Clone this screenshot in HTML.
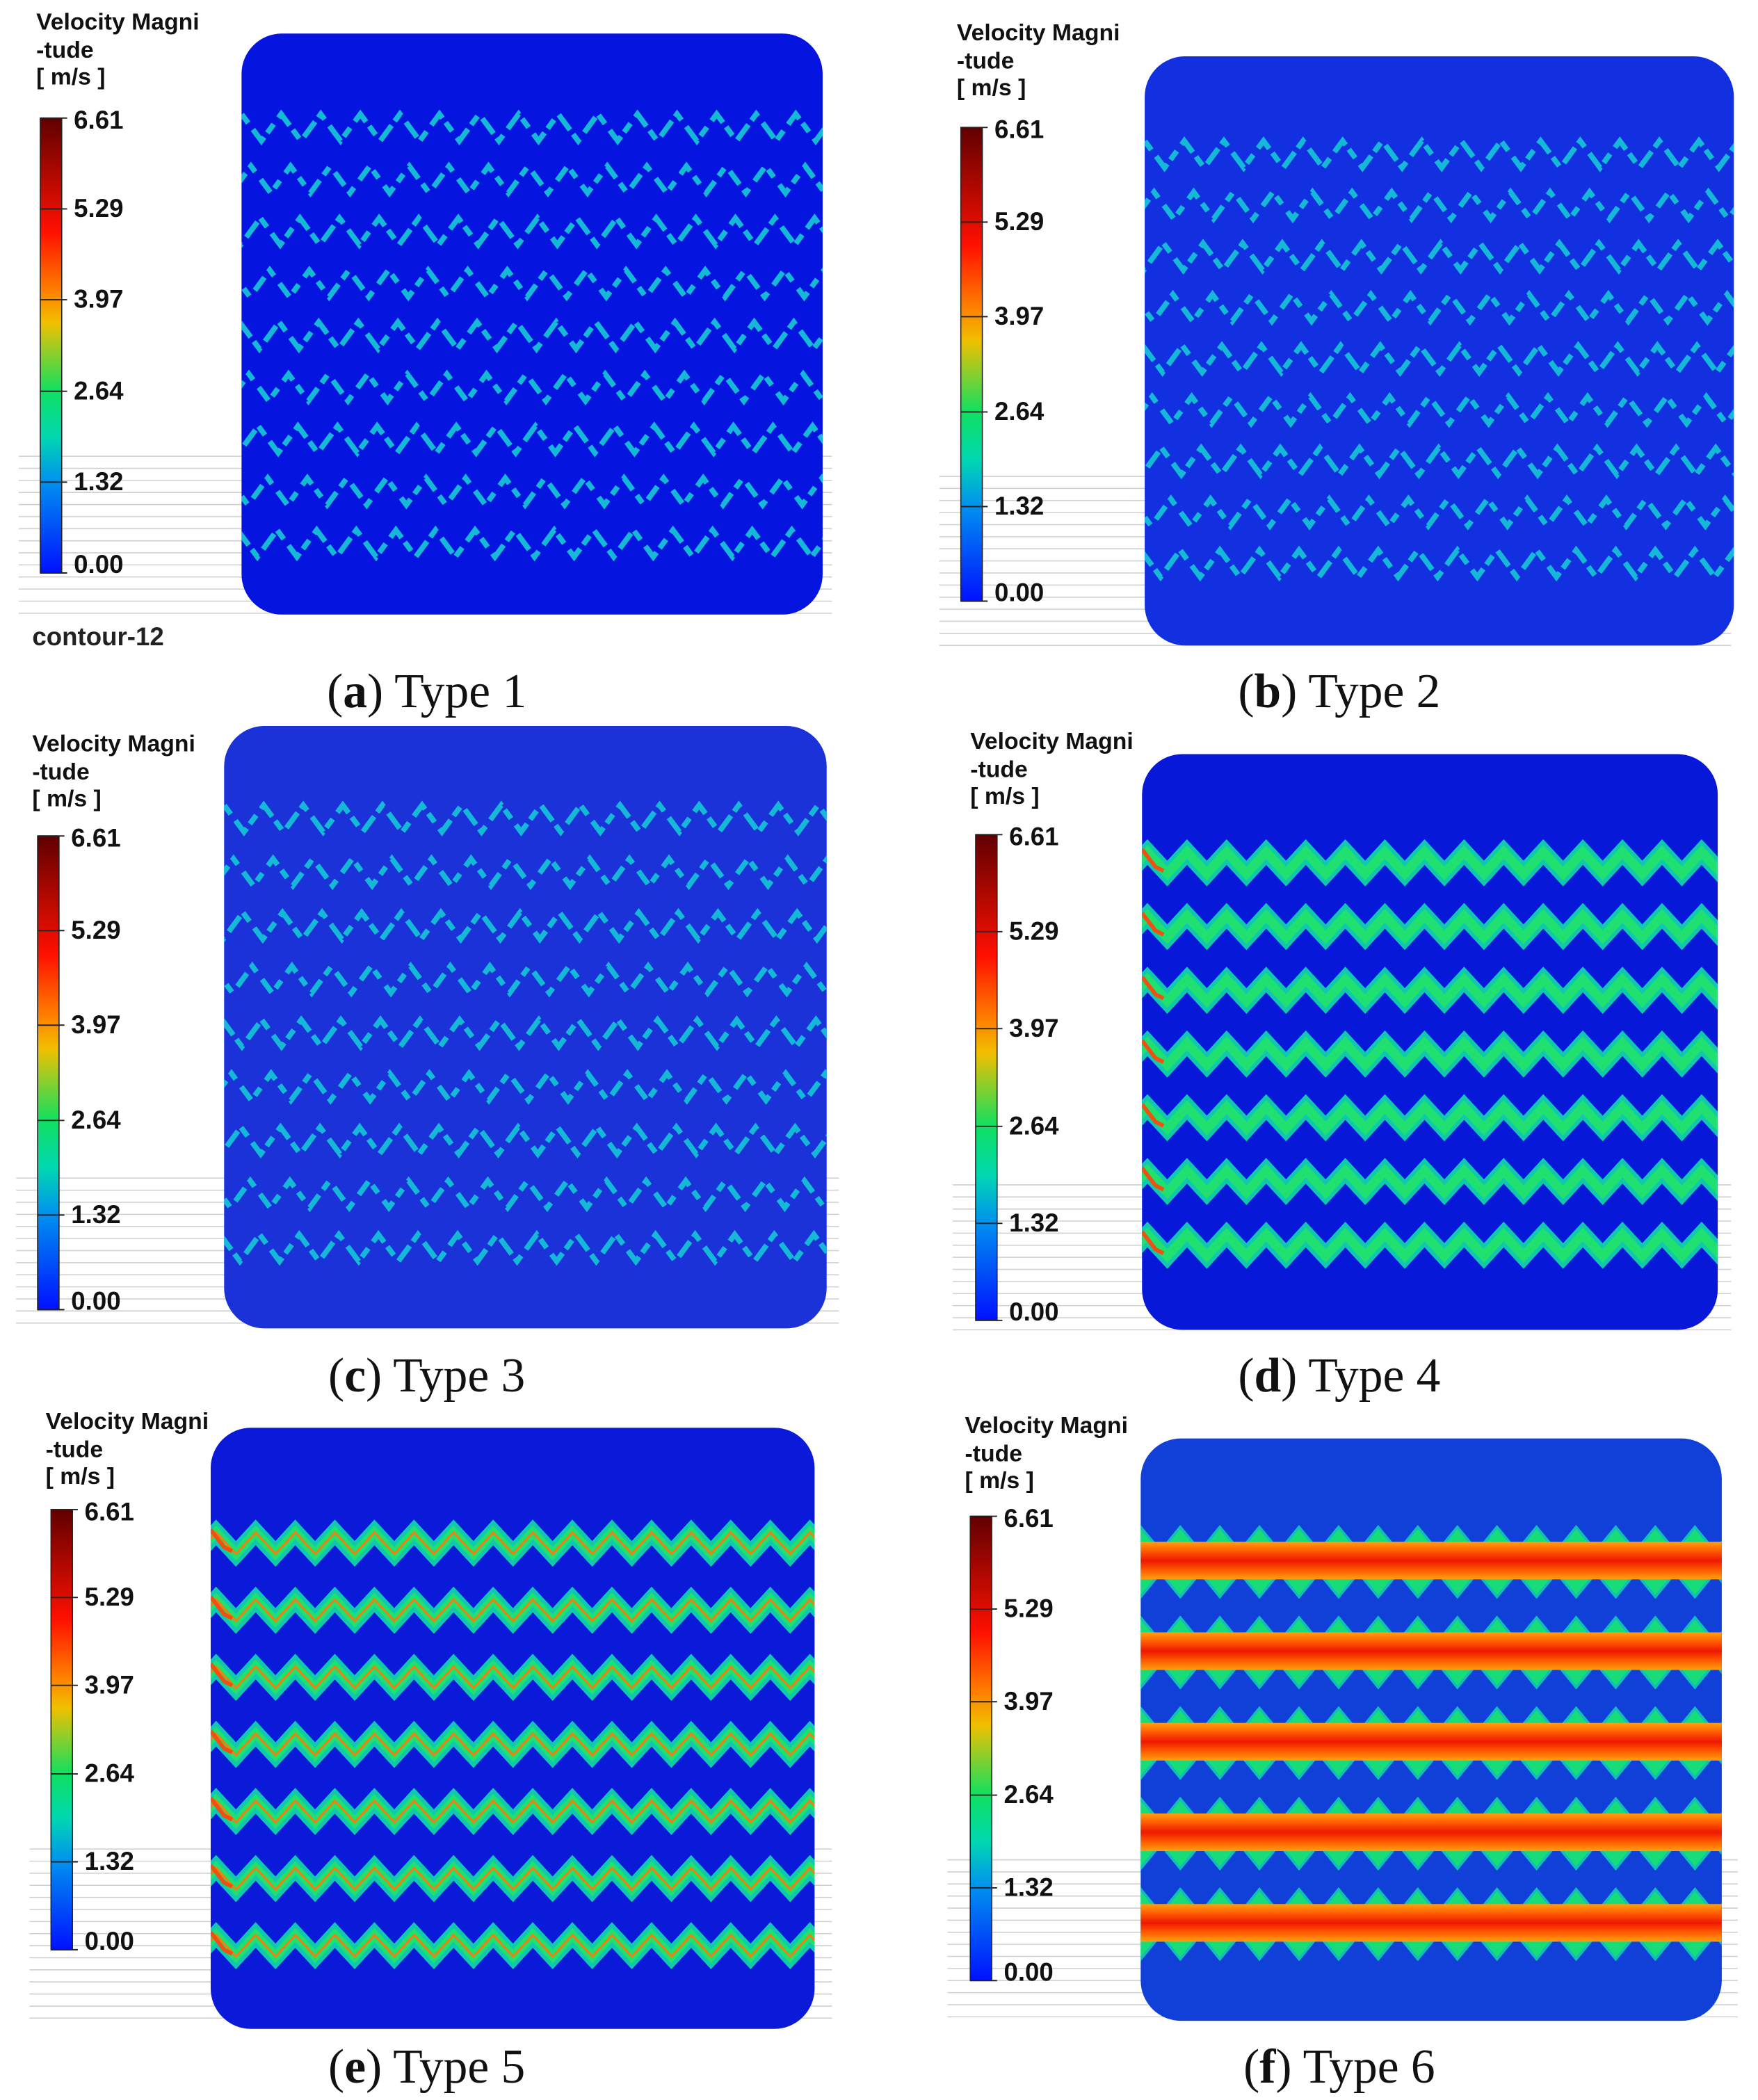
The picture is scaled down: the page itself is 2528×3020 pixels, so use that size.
<!DOCTYPE html>
<html><head><meta charset="utf-8"><style>
html,body{margin:0;padding:0;background:#fff}
svg{display:block}
</style></head><body>
<svg id="fig" width="2528" height="3020" viewBox="0 0 1310 1565" preserveAspectRatio="none" xmlns="http://www.w3.org/2000/svg">
<defs>
<linearGradient id="cbar" x1="0" y1="1" x2="0" y2="0">
<stop offset="0" stop-color="#0010ff"/><stop offset="0.2" stop-color="#0090f0"/>
<stop offset="0.3" stop-color="#00d8b0"/><stop offset="0.4" stop-color="#10e060"/>
<stop offset="0.55" stop-color="#f0c000"/><stop offset="0.62" stop-color="#ff8000"/>
<stop offset="0.75" stop-color="#ff1000"/><stop offset="1" stop-color="#600000"/>
</linearGradient>
<linearGradient id="bandGrad" x1="0" y1="0" x2="0" y2="1">
<stop offset="0" stop-color="#ffa010"/><stop offset="0.25" stop-color="#ff5a00"/>
<stop offset="0.5" stop-color="#ee1800"/><stop offset="0.75" stop-color="#ff5a00"/><stop offset="1" stop-color="#ffa010"/>
</linearGradient>
<clipPath id="ca"><rect x="180" y="25" width="433" height="433" rx="30"/></clipPath>
<clipPath id="cb"><rect x="853" y="42" width="439" height="439" rx="30"/></clipPath>
<clipPath id="cc"><rect x="167" y="541" width="449" height="449" rx="30"/></clipPath>
<clipPath id="cd"><rect x="851" y="562" width="429" height="429" rx="30"/></clipPath>
<clipPath id="ce"><rect x="157" y="1064" width="450" height="448" rx="30"/></clipPath>
<clipPath id="cf"><rect x="850" y="1072" width="433" height="434" rx="30"/></clipPath>
</defs>
<g id="root"></g>
</svg>
<script>
// colorbar data
const tickValues = [0.00, 1.32, 2.64, 3.97, 5.29, 6.61];
const tickLabels = ["0.00", "1.32", "2.64", "3.97", "5.29", "6.61"];
const vMax = 6.61;
// channel counts per type
const rowCounts = [9, 9, 9, 7, 7, 5];
const captionTypes = ["Type 1", "Type 2", "Type 3", "Type 4", "Type 5", "Type 6"];
const captionLetters = ["a", "b", "c", "d", "e", "f"];

const NS = "http://www.w3.org/2000/svg";
const root = document.getElementById('root');
function mk(tag, attrs, parent){const e=document.createElementNS(NS,tag);for(const k in attrs)e.setAttribute(k,attrs[k]);(parent||root).appendChild(e);return e;}

const layout = [
 {cb:[30,88,427], t:[27,22], r:[180,25,433,433], clip:'ca', cap:[318,515], bg:'#0614e0', grid:[14,340,620,460], r0:95, r1:405, mode:'dash'},
 {cb:[716,95,448], t:[713,30], r:[853,42,439,439], clip:'cb', cap:[998,515], bg:'#1230e0', grid:[700,355,1290,485], r0:115, r1:420, mode:'dash'},
 {cb:[28,623,976], t:[24,560], r:[167,541,449,449], clip:'cc', cap:[318,1025], bg:'#1a32d8', grid:[12,878,625,992], r0:610, r1:930, mode:'dash'},
 {cb:[727,622,984], t:[723,558], r:[851,562,429,429], clip:'cd', cap:[998,1025], bg:'#0818d8', grid:[710,883,1290,995], r0:643, r1:928, mode:'solid'},
 {cb:[38,1125,1453], t:[34,1065], r:[157,1064,450,448], clip:'ce', cap:[318,1540], bg:'#0a1ad8', grid:[22,1378,620,1510], r0:1150, r1:1450, mode:'solid2'},
 {cb:[723,1130,1476], t:[719,1068], r:[850,1072,433,434], clip:'cf', cap:[998,1540], bg:'#1040d8', grid:[706,1386,1295,1510], r0:1162, r1:1432, mode:'band'}
];

function zig(x0,x1,yc,amp,per,phase){let d='';let i=0;for(let x=x0-per+phase;x<=x1+per;x+=per/2,i++){const y=yc+(i%2?amp:-amp);d+=(d?'L':'M')+x.toFixed(1)+' '+y.toFixed(1);}return d;}

layout.forEach((L,pi)=>{
 const g=mk('g',{});
 
 
 const gg=mk('g',{stroke:'#cfcfcf','stroke-width':'0.8'},g);
 
 
 const [gx0,gy0,gx1,gy1]=L.grid;
 for(let y=gy0;y<=gy1;y+=9) mk('line',{x1:gx0,y1:y,x2:gx1,y2:y},gg);
 const tt=mk('text',{x:L.t[0],y:L.t[1],'font-family':'Liberation Sans, sans-serif','font-weight':'bold','font-size':'17.5',fill:'#111'},g);
 
 
 [['Velocity Magni',0],['-tude',21],['[ m/s ]',20]].forEach(([s,dy])=>{const ts=mk('tspan',{x:L.t[0],dy:dy},tt);ts.textContent=s;});
 const [cx,cy0,cy1]=L.cb;
 const cbr=mk('rect',{x:cx,y:cy0,width:16,height:cy1-cy0,fill:'url(#cbar)',stroke:'#222','stroke-width':'0.8'},g);
 
 
 const yOf=v=>cy1-(v/vMax)*(cy1-cy0);
 tickValues.forEach((v,i)=>{
  const t=mk('text',{x:cx+25,y:yOf(v)+(i==tickValues.length-1?8:i==0?0:6),'font-family':'Liberation Sans, sans-serif','font-weight':'bold','font-size':'19',fill:'#111'},g);
  t.textContent=tickLabels[i];
  
  
  mk('line',{x1:cx,y1:yOf(v),x2:cx+20,y2:yOf(v),stroke:'#222','stroke-width':'1'},g);
 });
 const [rx,ry,rw,rh]=L.r;
 const pr=mk('rect',{x:rx,y:ry,width:rw,height:rh,rx:30,fill:L.bg},g);
 
 
 const cg=mk('g',{'clip-path':'url(#'+L.clip+')'},g);
 
 
 const n=rowCounts[pi];
 const per=29.5;
 for(let k=0;k<n;k++){
  const yc=L.r0+(L.r1-L.r0)*k/(n-1);
  if(L.mode==='dash'){
   const p=mk('path',{d:zig(rx,rx+rw,yc,10,per,(k*7)%per),fill:'none',stroke:'#16b8d8','stroke-width':'4','stroke-dasharray':(k%2?'12 5 7 7':'14 4 8 6'),'stroke-linejoin':'miter'},cg);
   
   
  } else if(L.mode==='solid'||L.mode==='solid2'){
   const p1=mk('path',{d:zig(rx,rx+rw,yc,8,per,4),fill:'none',stroke:'#10c8b0','stroke-width':'13','stroke-linejoin':'miter'},cg);
   
   
   mk('path',{d:zig(rx,rx+rw,yc,8,per,4),fill:'none',stroke:'#20e070','stroke-width':'7'},cg);
   if(L.mode==='solid2') mk('path',{d:zig(rx,rx+rw,yc,8,per,4),fill:'none',stroke:'#f08010','stroke-width':'1.6'},cg);
   mk('path',{d:'M'+rx+' '+(yc-10)+'L'+(rx+10)+' '+(yc+3)+'L'+(rx+16)+' '+(yc+6),fill:'none',stroke:'#f05010','stroke-width':'3'},cg);
  } else {
   const up=[],dn=[];let i=0;
   for(let x=rx-per;x<=rx+rw+per;x+=per/2,i++){up.push([x,yc+(i%2?-6:-24)]);dn.push([x,yc+(i%2?10:28)]);}
   let d='M'+up.map(p=>p[0].toFixed(1)+' '+p[1]).join('L')+'L'+dn.reverse().map(p=>p[0].toFixed(1)+' '+p[1]).join('L')+'Z';
   const p=mk('path',{d:d,fill:'#18dc78',stroke:'#10c0b8','stroke-width':'2'},cg);
   
   
   mk('rect',{x:rx,y:yc-13,width:rw,height:28,fill:'url(#bandGrad)'},cg);
  }
 }
 const c=mk('text',{x:L.cap[0],y:L.cap[1]+12,'text-anchor':'middle','font-family':'Liberation Serif, serif','font-size':'36',fill:'#111'},g);
 
 
 const a=mk('tspan',{},c);a.textContent='(';
 const b=mk('tspan',{'font-weight':'bold'},c);b.textContent=captionLetters[pi];
 const e=mk('tspan',{},c);e.textContent=') '+captionTypes[pi];
});
const cl=mk('text',{x:24,y:481,'font-family':'Liberation Sans, sans-serif','font-weight':'bold','font-size':'19',fill:'#222'});
cl.textContent='contour-12';


</script>
</body></html>
